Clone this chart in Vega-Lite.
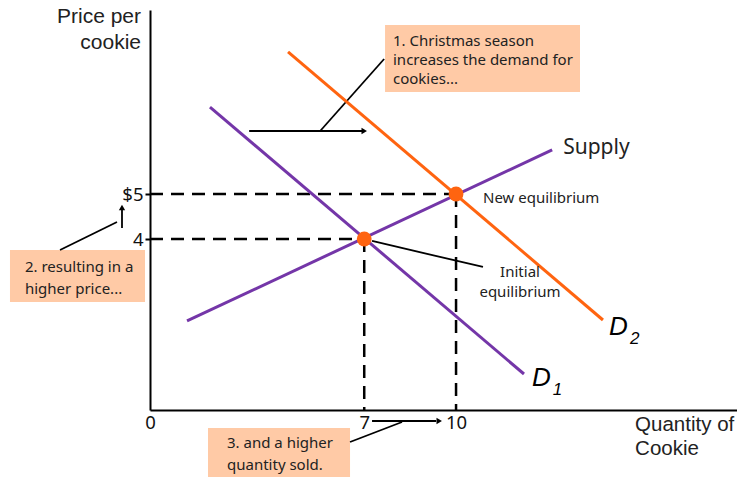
{
  "$schema": "https://vega.github.io/schema/vega-lite/v6.json",
  "width": 587,
  "height": 400,
  "autosize": {"type": "none"},
  "padding": {"left": 150, "top": 10, "right": 0, "bottom": 67},
  "background": "white",
  "config": {"view": {"stroke": null}, "axis": {"grid": false}},
  "datasets": {
    "curves": [
      {"g": "D1", "q": 1.96, "p": 6.93}, {"g": "D1", "q": 12.22, "p": 1.0},
      {"g": "S", "q": 1.21, "p": 2.18}, {"g": "S", "q": 13.14, "p": 5.98},
      {"g": "D2", "q": 4.51, "p": 8.16}, {"g": "D2", "q": 14.8, "p": 2.2}
    ],
    "dashes": [
      {"q": 0, "p": 5, "q2": 10, "p2": 5},
      {"q": 0, "p": 4, "q2": 7, "p2": 4},
      {"q": 7, "p": 4, "q2": 7, "p2": 0.2},
      {"q": 10, "p": 5, "q2": 10, "p2": 0.2}
    ],
    "connectors": [
      {"q": 3.24, "p": 6.4, "q2": 6.95, "p2": 6.4},
      {"q": 5.56, "p": 6.4, "q2": 7.65, "p2": 8.0},
      {"q": -2.94, "p": 3.756, "q2": -1.078, "p2": 4.378},
      {"q": -0.915, "p": 4.244, "q2": -0.915, "p2": 4.65},
      {"q": 6.536, "p": -0.511, "q2": 8.235, "p2": -0.067},
      {"q": 7.255, "p": -0.044, "q2": 9.35, "p2": -0.044},
      {"q": 7.255, "p": 3.956, "q2": 10.88, "p2": 3.378}
    ],
    "heads": [
      {"q": 7.0, "p": 6.4, "s": "triangle-right"},
      {"q": 9.45, "p": -0.044, "s": "triangle-right"},
      {"q": -0.915, "p": 4.7, "s": "triangle-up"}
    ],
    "equilibria": [
      {"q": 7, "p": 4},
      {"q": 10, "p": 5}
    ],
    "boxes": [
      {"q": 7.68, "p": 8.756, "q2": 14.05, "p2": 7.267},
      {"q": -4.575, "p": 3.756, "q2": -0.163, "p2": 2.6},
      {"q": 1.895, "p": -0.2, "q2": 6.536, "p2": -1.289}
    ],
    "boxtext": [
      {"t": "1. Christmas season", "q": 7.94, "p": 8.4},
      {"t": "increases the demand for", "q": 7.94, "p": 7.978},
      {"t": "cookies...", "q": 7.94, "p": 7.556},
      {"t": "2. resulting in a", "q": -4.085, "p": 3.378},
      {"t": "higher price...", "q": -4.085, "p": 2.889},
      {"t": "3. and a higher", "q": 2.516, "p": -0.533},
      {"t": "quantity sold.", "q": 2.516, "p": -1.022},
      {"t": "New equilibrium", "q": 10.88, "p": 4.911}
    ],
    "centertext": [
      {"t": "Initial", "q": 12.09, "p": 3.267},
      {"t": "equilibrium", "q": 12.09, "p": 2.822}
    ],
    "ytitle": [
      {"t": "Price per", "q": -0.294, "p": 8.933},
      {"t": "cookie", "q": -0.294, "p": 8.356}
    ],
    "xtitle": [
      {"t": "Quantity of", "q": 15.85, "p": -0.133},
      {"t": "Cookie", "q": 15.85, "p": -0.667}
    ],
    "curvelabels": [
      {"t": "Supply", "q": 13.5, "p": 6.022}
    ],
    "dlabels": [
      {"t": "D", "q": 15.0, "p": 2.044},
      {"t": "D", "q": 12.48, "p": 0.911}
    ],
    "dsubs": [
      {"t": "2", "q": 15.68, "p": 1.78},
      {"t": "1", "q": 13.16, "p": 0.65}
    ]
  },
  "encoding": {
    "x": {
      "field": "q", "type": "quantitative",
      "scale": {"domain": [0, 19.18], "nice": false, "zero": false},
      "axis": {
        "values": [0, 7, 10], "title": null, "ticks": false,
        "domainColor": "black", "domainWidth": 2,
        "labelFontSize": 18.5, "labelColor": "#111111", "labelPadding": 3,
        "labelFont": "Noto Sans", "labelFlush": false
      }
    },
    "y": {
      "field": "p", "type": "quantitative",
      "scale": {"domain": [0.2, 9.089], "nice": false, "zero": false},
      "axis": {
        "values": [4, 5], "title": null, "tickSize": 5, "tickColor": "black", "tickWidth": 2,
        "domainColor": "black", "domainWidth": 2,
        "labelExpr": "datum.value == 5 ? '$5' : '4'",
        "labelFontSize": 18.5, "labelColor": "#111111", "labelPadding": 2,
        "labelFont": "Noto Sans"
      }
    }
  },
  "layer": [
    {
      "data": {"name": "boxes"},
      "mark": {"type": "rect", "fill": "#ffcaa6"},
      "encoding": {"x2": {"field": "q2"}, "y2": {"field": "p2"}}
    },
    {
      "data": {"name": "dashes"},
      "mark": {"type": "rule", "color": "black", "strokeWidth": 2.5, "strokeDash": [13, 8]},
      "encoding": {"x2": {"field": "q2"}, "y2": {"field": "p2"}}
    },
    {
      "data": {"name": "connectors"},
      "mark": {"type": "rule", "color": "black", "strokeWidth": 1.8},
      "encoding": {"x2": {"field": "q2"}, "y2": {"field": "p2"}}
    },
    {
      "data": {"name": "heads"},
      "mark": {"type": "point", "filled": true, "color": "black", "size": 40, "opacity": 1},
      "encoding": {"shape": {"field": "s", "type": "nominal", "scale": null}}
    },
    {
      "data": {"name": "curves"},
      "mark": {"type": "line", "strokeWidth": 3},
      "encoding": {
        "color": {
          "field": "g", "type": "nominal", "legend": null,
          "scale": {"domain": ["D1", "S", "D2"], "range": ["#7436a8", "#7436a8", "#ff6410"]}
        }
      }
    },
    {
      "data": {"name": "equilibria"},
      "mark": {"type": "circle", "color": "#ff6410", "size": 220, "opacity": 1}
    },
    {
      "data": {"name": "boxtext"},
      "mark": {"type": "text", "align": "left", "baseline": "middle", "fontSize": 15, "font": "Noto Sans", "color": "#222222"},
      "encoding": {"text": {"field": "t"}}
    },
    {
      "data": {"name": "centertext"},
      "mark": {"type": "text", "align": "center", "baseline": "middle", "fontSize": 15, "font": "Noto Sans", "color": "#222222"},
      "encoding": {"text": {"field": "t"}}
    },
    {
      "data": {"name": "ytitle"},
      "mark": {"type": "text", "align": "right", "baseline": "middle", "fontSize": 21, "font": "Liberation Sans", "color": "#222222"},
      "encoding": {"text": {"field": "t"}}
    },
    {
      "data": {"name": "xtitle"},
      "mark": {"type": "text", "align": "left", "baseline": "middle", "fontSize": 20.5, "font": "Liberation Sans", "color": "#222222"},
      "encoding": {"text": {"field": "t"}}
    },
    {
      "data": {"name": "curvelabels"},
      "mark": {"type": "text", "align": "left", "baseline": "middle", "fontSize": 21, "font": "Noto Sans", "color": "#222222"},
      "encoding": {"text": {"field": "t"}}
    },
    {
      "data": {"name": "dlabels"},
      "mark": {"type": "text", "align": "left", "baseline": "middle", "fontSize": 26, "fontStyle": "italic", "font": "Liberation Sans", "color": "black"},
      "encoding": {"text": {"field": "t"}}
    },
    {
      "data": {"name": "dsubs"},
      "mark": {"type": "text", "align": "left", "baseline": "middle", "fontSize": 17, "fontStyle": "italic", "font": "Liberation Sans", "color": "black"},
      "encoding": {"text": {"field": "t"}}
    }
  ]
}
